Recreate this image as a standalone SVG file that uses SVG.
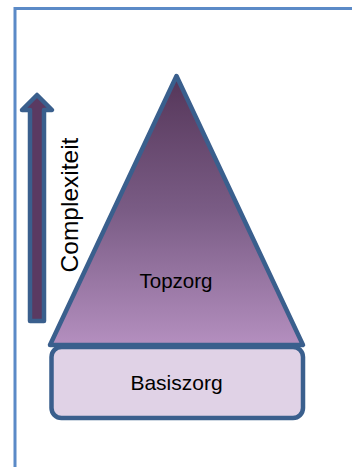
<svg xmlns="http://www.w3.org/2000/svg" width="352" height="467" viewBox="0 0 352 467">
  <defs>
    <linearGradient id="gTop" x1="0" y1="0" x2="0" y2="1">
      <stop offset="0" stop-color="#553659"/>
      <stop offset="0.5" stop-color="#7a5c85"/>
      <stop offset="1" stop-color="#b48fbf"/>
    </linearGradient>
    <style>
      .shape { stroke: #3a5f8d; stroke-width: 4.5; stroke-linejoin: round; }
      .lbl { font-family: "Liberation Sans", Arial, sans-serif; fill: #000; text-anchor: middle; }
    </style>
  </defs>
  <rect x="0" y="0" width="352" height="467" fill="#ffffff"/>
  <rect x="15" y="8.5" width="400" height="500" fill="none" stroke="#5b8ac7" stroke-width="3"/>
  <g id="arrow">
    <path class="shape" d="M30 321 L30 110 L22 110 L37 95 L52 110 L44 110 L44 321 Z" fill="#5a3a62" stroke-width="4"/>
  </g>
  <g id="complexiteit">
    <text class="lbl" transform="translate(77.5,205) rotate(-90)" x="0" y="0" font-size="24.5">Complexiteit</text>
  </g>
  <g id="topzorg">
    <path class="shape" d="M176.5 76 L303 345 L50 345 Z" fill="url(#gTop)"/>
    <text class="lbl" x="176" y="288" font-size="20.5">Topzorg</text>
  </g>
  <g id="basiszorg">
    <rect class="shape" x="51.5" y="347" width="251.5" height="71" rx="10" fill="#e0d2e6"/>
    <text class="lbl" x="176.5" y="390" font-size="21">Basiszorg</text>
  </g>
  <g id="connectors"></g>
</svg>
